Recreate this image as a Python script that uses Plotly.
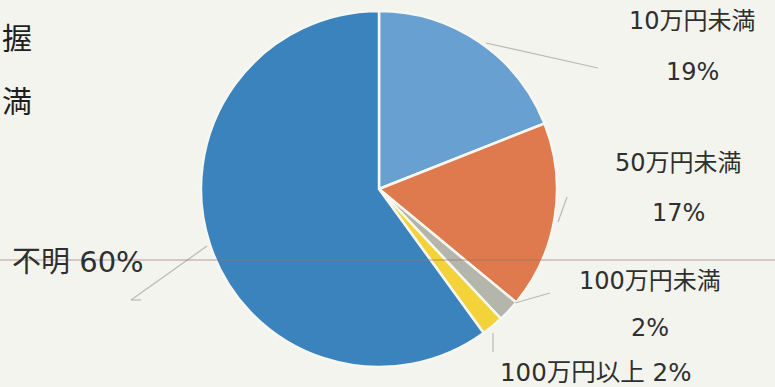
import plotly.graph_objects as go

# Breakdown of damage amounts
categories = ["10万円未満", "50万円未満", "100万円未満", "100万円以上", "不明"]
shares = [19, 17, 2, 2, 60]
colors = ["#68a0d2", "#df7a4e", "#b4b6ab", "#f3d23a", "#3b83bd"]

W, H = 775, 387


def px(x):
    return x / W


def py(y):
    return 1 - y / H


fig = go.Figure(
    go.Pie(
        labels=categories,
        values=shares,
        sort=False,
        direction="clockwise",
        rotation=0,
        textinfo="none",
        hoverinfo="label+percent",
        marker=dict(colors=colors, line=dict(color="#f7f7f2", width=2.5)),
        domain=dict(x=[px(201), px(557)], y=[py(367), py(11)]),
        showlegend=False,
    )
)

font_main = "DejaVu Sans, Noto Sans CJK JP, sans-serif"
txt_color = "#2f2f2f"


def label(text, x, y, size=24, xanchor="center"):
    return dict(
        text=text, x=px(x), y=py(y), xref="paper", yref="paper",
        xanchor=xanchor, yanchor="middle", showarrow=False,
        font=dict(family=font_main, size=size, color=txt_color),
    )


def side_char(text, y):
    return dict(text=text, x=0, y=py(y), xref="paper", yref="paper",
                xanchor="left", yanchor="middle", showarrow=False,
                font=dict(family="Noto Sans CJK JP", size=30, color="#1e1e1e"))


pct = [f"{v}%" for v in shares]
annotations = [
    label(categories[0], 692, 21),
    label(pct[0], 692, 72),
    label(categories[1], 678, 163),
    label(pct[1], 678, 213),
    label(categories[2], 650, 281),
    label(pct[2], 650, 328),
    label(f"{categories[3]} {pct[3]}", 498, 372, size=24.5, xanchor="left"),
    label(f"{categories[4]} {pct[4]}", 10, 262, size=29, xanchor="left"),
    # fragments of the surrounding page text
    side_char("握", 36),
    side_char("満", 99),
]

leader = dict(color="#b9bab2", width=1.2)


def seg(x0, y0, x1, y1):
    return dict(type="line", xref="paper", yref="paper",
                x0=px(x0), y0=py(y0), x1=px(x1), y1=py(y1), line=leader)


shapes = [
    seg(486, 43, 598, 68),
    seg(567, 197, 558, 222),
    seg(515, 303, 550, 293),
    seg(493, 333, 493, 352),
    seg(207, 246, 131, 300),
    seg(131, 300, 141, 300),
    # faint fold line running across the sheet
    dict(type="line", xref="paper", yref="paper", x0=0, x1=1,
         y0=py(260), y1=py(260), line=dict(color="rgba(150,110,110,0.45)", width=1.5),
         layer="above"),
]

fig.update_layout(
    width=W, height=H,
    margin=dict(l=0, r=0, t=0, b=0),
    paper_bgcolor="#f4f4ee",
    plot_bgcolor="#f4f4ee",
    annotations=annotations,
    shapes=shapes,
)

fig.write_html("out.html")
